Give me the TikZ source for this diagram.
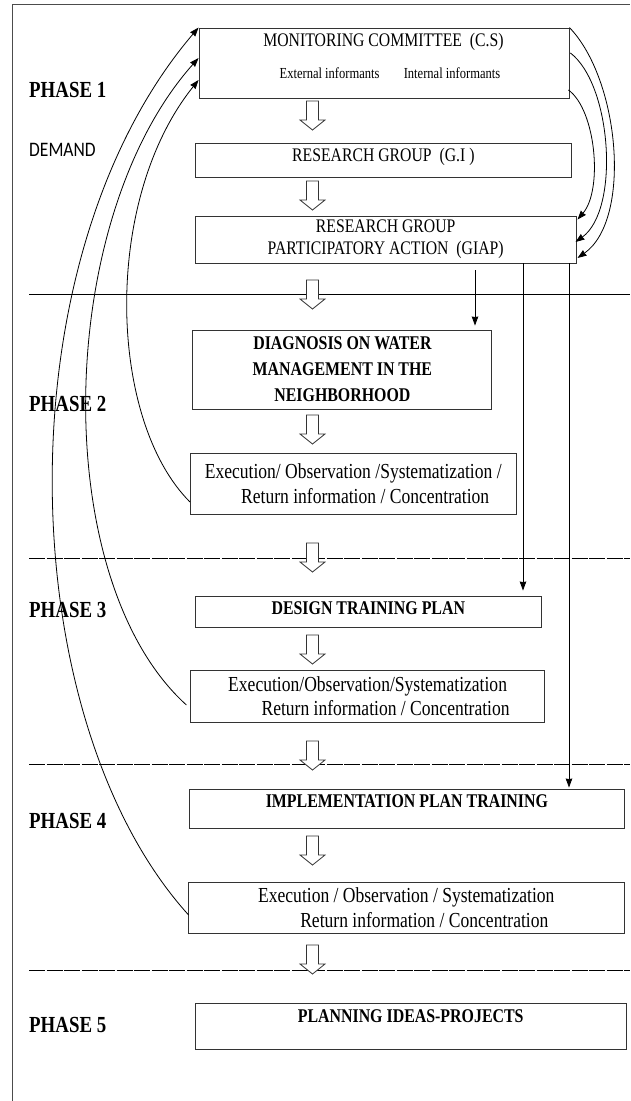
\documentclass[tikz,border=0pt]{standalone}
\usepackage{fontspec}
\setmainfont{Liberation Serif}[FakeStretch=0.82]
\newfontfamily\demandfont{Carlito}[FakeStretch=0.85]
\usetikzlibrary{arrows.meta}
\tikzstyle{box} = [rectangle, draw=black!80, line width=0.9pt, inner sep=0, align=center]
\tikzstyle{title} = [inner sep=0, font=\fontsize{19.2}{22}\selectfont]
\tikzstyle{info} = [inner sep=0, font=\fontsize{15.3}{17}\selectfont]
\tikzstyle{exec} = [font=\fontsize{21.4}{24.5}\selectfont]
\tikzstyle{heavy} = [font=\fontsize{19.4}{26}\selectfont\bfseries]
\tikzstyle{phase} = [anchor=west, inner sep=0, font=\fontsize{23}{25}\selectfont\bfseries]
\tikzstyle{hollow} = [draw=black!80, fill=white, line width=0.8pt, line join=miter]
\tikzstyle{arrow} = [line width=0.8pt,->,>={Stealth[length=9pt,width=6.5pt,inset=0.5pt]}]
\tikzstyle{divider} = [line width=0.9pt]
\begin{document}
\begin{tikzpicture}[x=1pt,y=-1pt]
\useasboundingbox (0,0) rectangle (630,1101);
\draw[black!70, line width=1pt] (12,1101)--(12,4)--(630,4);

% phase dividers
\draw[divider] (29,294)--(630,294);
\foreach \y in {558,764,970}{
	\draw[divider, dash pattern=on 16pt off 1.5pt] (29,\y)--(630,\y);}

% phase labels
\node[phase] (p1) at (29,90) {PHASE 1};
\node[phase] (p2) at (29,403.5) {PHASE 2};
\node[phase] (p3) at (29,610) {PHASE 3};
\node[phase] (p4) at (29,821) {PHASE 4};
\node[phase] (p5) at (29,1025) {PHASE 5};
\node[anchor=west, inner sep=0, font=\demandfont\fontsize{20.6}{22}\selectfont] (demand) at (29,150) {DEMAND};

% boxes
\node[box, minimum width=370pt, minimum height=70pt] (cs) at (384,63) {};
\node[title] (cstitle) at (383.5,42) {MONITORING COMMITTEE~~(C.S)};
\node[info] (ext) at (329.6,73) {External informants};
\node[info] (int) at (452,73) {Internal informants};
\node[box, title, minimum width=376pt, minimum height=34pt, text height=13pt, text depth=10pt] (gi) at (383.4,160) {RESEARCH GROUP~~(G.I~)};
\node[box, title, minimum width=380.7pt, minimum height=47pt] (giap) at (385.7,239.5) {RESEARCH GROUP\\PARTICIPATORY ACTION~~(GIAP)};
\node[box, heavy, minimum width=299pt, minimum height=79pt] (diag) at (342.4,369.5) {DIAGNOSIS ON WATER\\MANAGEMENT IN THE\\NEIGHBORHOOD};
\node[box, exec, minimum width=325.5pt, minimum height=61pt] (obs2) at (353.2,483.5) {Execution/ Observation /Systematization /\\\hspace*{24pt}Return information / Concentration};
\node[box, heavy, minimum width=346pt, minimum height=31pt, text height=13pt, text depth=8pt] (design) at (368.3,611.5) {DESIGN TRAINING PLAN};
\node[box, exec, minimum width=354.4pt, minimum height=52pt] (obs3) at (367.6,696) {Execution/Observation/Systematization\\\hspace*{36pt}Return information / Concentration};
\node[box, heavy, minimum width=435.3pt, minimum height=39pt, text height=13pt, text depth=15pt] (impl) at (406.9,808.5) {IMPLEMENTATION PLAN TRAINING};
\node[box, exec, minimum width=436.5pt, minimum height=51pt] (obs4) at (406.3,907.5) {Execution / Observation / Systematization\\\hspace*{36pt}Return information / Concentration};
\node[box, heavy, minimum width=430.7pt, minimum height=46pt, text height=13pt, text depth=21pt] (plan) at (410.7,1026) {PLANNING IDEAS-PROJECTS};

% hollow arrows down the middle
\foreach \y [count=\i] in {101,181,280,415,543,635,741,836,945}{
	\coordinate (h\i) at (312.5,\y);
	\draw[hollow] ([xshift=-6pt]h\i) -- ++(0,19) -- ++(-6.5,0) -- ([yshift=-29pt]h\i)
		-- ([shift={(12.5,19)}]h\i) -- ++(-6.5,0) -- ([xshift=6pt]h\i) -- cycle;}

% from the committee to GIAP
\draw[arrow] (cs.north east) .. controls (620,80) and (632,220) .. ([shift={(1,18.5)}]giap.east);
\draw[arrow] ([shift={(1,-10)}]cs.east) .. controls (612,85) and (620,210) .. ([shift={(-1,2.5)}]giap.east);
\draw[arrow] ([shift={(-1,27)}]cs.east) .. controls (596,110) and (603,190) .. ([shift={(1,4)}]giap.north east);

% feedback to the committee
\draw[arrow] ([shift={(0,18.5)}]obs2.west) .. controls (108,420) and (102,200) .. ([shift={(0,17)}]cs.west);
\draw[arrow] ([shift={(-3.5,9)}]obs3.west) .. controls (48,580) and (54,220) .. ([shift={(0,-5)}]cs.west);
\draw[arrow] ([shift={(1,7.5)}]obs4.west) .. controls (12,720) and (0,260) .. (cs.north west);

% GIAP down to the phases
\coordinate (v1) at (475,270);
\coordinate (v2) at (523,263);
\coordinate (v3) at (569,263);
\draw[arrow, shorten >=4pt] (v1) -- (v1 |- diag.north);
\draw[arrow, shorten >=5pt] (v2) -- (v2 |- design.north);
\draw[arrow, shorten >=1pt] (v3) -- (v3 |- impl.north);
\end{tikzpicture}
\end{document}
